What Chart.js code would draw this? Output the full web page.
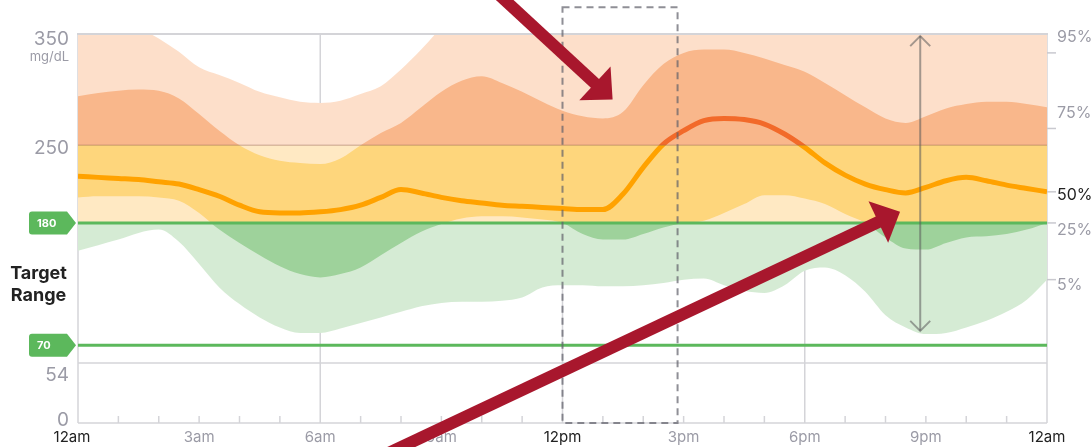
<!DOCTYPE html>
<html>
<head>
<meta charset="utf-8">
<script src="https://cdn.jsdelivr.net/npm/chart.js@4.4.1/dist/chart.umd.min.js"></script>
<style>
  html, body { margin: 0; padding: 0; background: #fff; }
  #wrap { width: 1092px; height: 447px; position: relative; }
</style>
</head>
<body>
<div id="wrap"><canvas id="agp"></canvas></div>
<script>
// hours of the day (0 = 12am, 24 = 12am next day)
const hours = [0, 0.5, 1, 1.5, 2, 2.5, 3, 3.5, 4, 4.5, 5, 5.5, 6, 6.5, 7, 7.5, 8, 8.5, 9, 9.5,
  10, 10.5, 11, 11.5, 12, 12.5, 13, 13.5, 14, 14.5, 15, 15.5, 16, 16.5, 17, 17.5, 18, 18.5, 19, 19.5,
  20, 20.5, 21, 21.5, 22, 22.5, 23, 23.5, 24];

// percentile curves, mg/dL
const p95 = [372, 372, 368, 356, 346, 334, 320, 313, 306, 298, 293, 289, 288, 290, 296, 303, 318, 336, 356, 374,
  385, 385, 385, 385, 385, 385, 385, 385, 385, 385, 385, 385, 385, 385, 385, 385, 385, 385, 385, 385,
  385, 385, 385, 385, 385, 385, 385, 385, 385];
const p75 = [294, 297, 299, 300, 299, 292, 278, 263, 250, 241, 236, 234, 233, 238, 250, 261, 270, 284, 298, 308,
  312, 306, 298, 289, 281, 276, 274, 280, 304, 323, 333, 336, 336, 333, 328, 322, 316, 306, 295, 284,
  274, 270, 276, 283, 287, 289, 289, 287, 284];
const p50 = [222, 221, 220, 219, 217, 215, 210, 204, 196, 190, 189, 189, 190, 192, 196, 203, 210, 207, 203, 200,
  198, 196, 195, 194, 193, 192, 192, 206, 230, 251, 263, 272, 274, 273, 269, 260, 248, 234, 223, 215,
  210, 207, 212, 218, 221, 218, 214, 211, 208];
const p25 = [203, 204, 204, 204, 203, 200, 189, 174, 162, 151, 141, 134, 131, 134, 140, 151, 162, 172, 179, 184,
  186, 186, 185, 183, 180, 170, 165, 165, 170, 176, 180, 182, 189, 197, 205, 205, 202, 197, 188, 180,
  167, 157, 156, 162, 167, 168, 170, 174, 180];
const p5 = [155, 160, 165, 171, 174, 163, 143, 122, 107, 95, 86, 81, 81, 85, 90, 95, 100, 105, 108, 109,
  109, 110, 113, 122, 124, 124, 123, 123, 124, 126, 129, 130, 124, 119, 117, 124, 137, 140, 133, 118,
  97, 86, 80, 81, 86, 92, 100, 111, 129];

const xTickHours = [0, 3, 6, 9, 12, 15, 18, 21, 24];
const xTickLabels = ['12am', '3am', '6am', '9am', '12pm', '3pm', '6pm', '9pm', '12am'];
const yTickValues = [350, 250, 54, 0];
const yTickLabels = ['350', '250', '54', '0'];
const pctLabels = ['95%', '75%', '50%', '25%', '5%'];
const pctTickValues = [333, 265, 208, 180, 129];
const targetLow = 70;
const targetHigh = 180;
const highLimit = 250;

const FONT = 'Inter, "Noto Sans", sans-serif';
const GRAY = '#9b9ba6';
const LINE_GRAY = '#d4d4d8';
const GREEN = '#5cb85c';
const RED = '#a8172d';

// fill colour changes by zone: above 250 / 180-250 / below 180
function zoneColor(cols) {
  return (c) => {
    const chart = c.chart;
    const area = chart.chartArea;
    if (!area) return cols[1];
    const y = chart.scales.y;
    const h = area.bottom - area.top;
    const f1 = (y.getPixelForValue(highLimit) - area.top) / h;
    const f2 = (y.getPixelForValue(targetHigh) - area.top) / h;
    const g = chart.ctx.createLinearGradient(0, area.top, 0, area.bottom);
    g.addColorStop(0, cols[0]); g.addColorStop(f1, cols[0]);
    g.addColorStop(f1, cols[1]); g.addColorStop(f2, cols[1]);
    g.addColorStop(f2, cols[2]); g.addColorStop(1, cols[2]);
    return g;
  };
}

const pts = arr => hours.map((h, i) => ({ x: h, y: arr[i] }));

function seg(ctx, x1, y1, x2, y2) {
  ctx.beginPath(); ctx.moveTo(x1, y1); ctx.lineTo(x2, y2); ctx.stroke();
}

function drawArrow(ctx, x1, y1, x2, y2) {
  const dx = x2 - x1, dy = y2 - y1, len = Math.hypot(dx, dy);
  const ux = dx / len, uy = dy / len;
  const headLen = 24, headHalf = 23;
  const bx = x2 - ux * headLen, by = y2 - uy * headLen;
  ctx.strokeStyle = RED; ctx.fillStyle = RED;
  ctx.lineWidth = 12; ctx.lineCap = 'butt';
  seg(ctx, x1, y1, bx + ux * 3, by + uy * 3);
  ctx.beginPath();
  ctx.moveTo(x2, y2);
  ctx.lineTo(bx - uy * headHalf, by + ux * headHalf);
  ctx.lineTo(bx + uy * headHalf, by - ux * headHalf);
  ctx.closePath();
  ctx.fill();
}

function drawTag(ctx, yp, text) {
  const l = 29, r = 76, n = 67, h = 23, t = yp - h / 2, b = yp + h / 2, rad = 3;
  ctx.fillStyle = GREEN;
  ctx.beginPath();
  ctx.moveTo(l + rad, t); ctx.lineTo(n, t); ctx.lineTo(r, yp); ctx.lineTo(n, b); ctx.lineTo(l + rad, b);
  ctx.arcTo(l, b, l, b - rad, rad); ctx.lineTo(l, t + rad); ctx.arcTo(l, t, l + rad, t, rad);
  ctx.closePath(); ctx.fill();
  ctx.fillStyle = '#fff';
  ctx.font = 'bold 11px ' + FONT;
  ctx.textAlign = 'left'; ctx.textBaseline = 'middle';
  ctx.fillText(text, 37, yp + 0.5);
}

const agpDecor = {
  id: 'agpDecor',
  beforeDatasetsDraw(chart) {
    const { ctx, chartArea: a, scales: { x, y } } = chart;
    ctx.save();
    ctx.strokeStyle = LINE_GRAY; ctx.lineWidth = 1.5;
    [6, 12, 18].forEach(h => { const px = x.getPixelForValue(h); seg(ctx, px, a.top, px, a.bottom); });
    const y54 = y.getPixelForValue(54);
    seg(ctx, a.left, y54, a.right, y54);
    seg(ctx, a.left, a.top, a.left, a.bottom);
    seg(ctx, a.right, a.top, a.right, a.bottom);
    ctx.restore();
  },
  afterDatasetsDraw(chart) {
    const { ctx, chartArea: a, scales: { x, y } } = chart;
    ctx.save();
    // 250 boundary
    ctx.strokeStyle = 'rgba(150,100,85,0.35)'; ctx.lineWidth = 1.5;
    const y250 = y.getPixelForValue(highLimit);
    seg(ctx, a.left, y250, a.right, y250);
    // top + bottom border
    ctx.strokeStyle = LINE_GRAY; ctx.lineWidth = 2;
    seg(ctx, a.left - 1, a.top, a.right + 1, a.top);
    ctx.lineWidth = 1.5;
    seg(ctx, a.left, a.bottom, a.right, a.bottom);
    // hourly minor ticks
    for (let h = 1; h < 24; h++) {
      if (h % 6 === 0) continue;
      const px = x.getPixelForValue(h);
      seg(ctx, px, a.bottom, px, a.bottom - 7);
    }
    // target range lines
    ctx.strokeStyle = GREEN; ctx.lineWidth = 3;
    [targetHigh, targetLow].forEach(v => { const py = y.getPixelForValue(v); seg(ctx, a.left, py, a.right, py); });
    ctx.restore();
  },
  afterDraw(chart) {
    const { ctx, chartArea: a, scales: { x, y } } = chart;
    ctx.save();
    // left axis labels
    const yDy = [5, 3, 12, -3];
    ctx.fillStyle = GRAY; ctx.textAlign = 'right'; ctx.textBaseline = 'middle';
    ctx.font = '19px ' + FONT;
    yTickValues.forEach((v, i) => ctx.fillText(yTickLabels[i], 69, y.getPixelForValue(v) + yDy[i]));
    ctx.font = '13px ' + FONT;
    ctx.fillText('mg/dL', 69, y.getPixelForValue(350) + 23);
    // target range label + tags
    ctx.fillStyle = '#222'; ctx.textAlign = 'center';
    ctx.font = 'bold 18px ' + FONT;
    ctx.fillText('Target', 38.5, 274);
    ctx.fillText('Range', 38.5, 296);
    drawTag(ctx, y.getPixelForValue(targetHigh), String(targetHigh));
    drawTag(ctx, y.getPixelForValue(targetLow), String(targetLow));
    // x labels
    ctx.font = '15px ' + FONT; ctx.textAlign = 'center'; ctx.textBaseline = 'middle';
    xTickHours.forEach((h, i) => {
      ctx.fillStyle = (h % 12 === 0) ? '#222' : GRAY;
      const dx = h === 0 ? -6 : 0;
      ctx.fillText(xTickLabels[i], x.getPixelForValue(h) + dx, 437);
    });
    // right percentile ticks and labels
    const pDy = [-16, -15, 3, 7, 6];
    ctx.strokeStyle = '#c9c9cf'; ctx.lineWidth = 1.5;
    ctx.font = '16px ' + FONT; ctx.textAlign = 'left';
    pctTickValues.forEach((v, i) => {
      const py = y.getPixelForValue(v);
      seg(ctx, a.right, py, a.right + 9, py);
      ctx.fillStyle = pctLabels[i] === '50%' ? '#222' : GRAY;
      ctx.fillText(pctLabels[i], a.right + 10, py + pDy[i]);
    });
    // dashed window 12pm - ~3pm
    ctx.strokeStyle = 'rgba(95,95,105,0.7)'; ctx.lineWidth = 2; ctx.setLineDash([7, 5]);
    const bx1 = x.getPixelForValue(12), bx2 = x.getPixelForValue(14.85);
    const by1 = y.getPixelForValue(374), by2 = y.getPixelForValue(0);
    ctx.strokeRect(bx1, by1, bx2 - bx1, by2 - by1);
    ctx.setLineDash([]);
    // grey spread arrow
    ctx.strokeStyle = 'rgba(90,90,90,0.55)'; ctx.lineWidth = 2; ctx.lineCap = 'butt';
    const gx = x.getPixelForValue(20.86), gt = y.getPixelForValue(349), gb = y.getPixelForValue(82);
    seg(ctx, gx, gt + 1, gx, gb - 1);
    ctx.beginPath(); ctx.moveTo(gx - 10, gt + 11); ctx.lineTo(gx, gt + 1); ctx.lineTo(gx + 10, gt + 11); ctx.stroke();
    ctx.beginPath(); ctx.moveTo(gx - 10, gb - 11); ctx.lineTo(gx, gb - 1); ctx.lineTo(gx + 10, gb - 11); ctx.stroke();
    // red call-out arrows
    drawArrow(ctx, x.getPixelForValue(10.05), y.getPixelForValue(398), x.getPixelForValue(13.24), y.getPixelForValue(291));
    drawArrow(ctx, x.getPixelForValue(7.34), y.getPixelForValue(-33), x.getPixelForValue(20.36), y.getPixelForValue(190));
    ctx.restore();
  }
};

const lightBand = ['#fddfca', '#ffe9c3', '#d5ebd4'];
const darkBand = ['#f9b78b', '#fed67c', '#9ed29b'];
const medianCols = ['#f26a2a', '#ffa200', '#ffa200'];
const clear = 'rgba(0,0,0,0)';

new Chart(document.getElementById('agp'), {
  type: 'line',
  data: {
    datasets: [
      { label: '50%', data: pts(p50), borderColor: zoneColor(medianCols), borderWidth: 5, fill: false,
        borderJoinStyle: 'round' },
      { label: '75%', data: pts(p75), borderColor: clear, borderWidth: 0, fill: 2, backgroundColor: zoneColor(darkBand) },
      { label: '25%', data: pts(p25), borderColor: clear, borderWidth: 0, fill: false },
      { label: '95%', data: pts(p95), borderColor: clear, borderWidth: 0, fill: 4, backgroundColor: zoneColor(lightBand) },
      { label: '5%', data: pts(p5), borderColor: clear, borderWidth: 0, fill: false }
    ]
  },
  options: {
    responsive: true,
    maintainAspectRatio: false,
    animation: false,
    layout: { padding: { left: 78, right: 45, top: 34, bottom: 24 } },
    elements: {
      point: { radius: 0 },
      line: { cubicInterpolationMode: 'monotone' }
    },
    scales: {
      x: { type: 'linear', min: 0, max: 24, display: false },
      y: { type: 'linear', min: 0, max: 350, display: false }
    },
    plugins: {
      legend: { display: false },
      tooltip: { enabled: false }
    }
  },
  plugins: [agpDecor]
});
</script>
</body>
</html>
